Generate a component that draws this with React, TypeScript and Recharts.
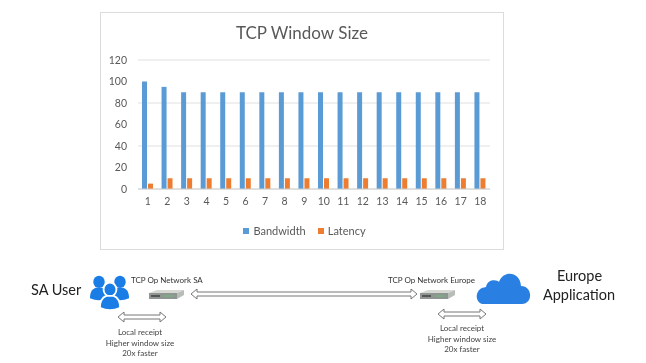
import { BarChart, Bar, XAxis, YAxis, CartesianGrid, Legend } from "recharts";

const categories = ["1", "2", "3", "4", "5", "6", "7", "8", "9", "10", "11", "12", "13", "14", "15", "16", "17", "18"];
const bandwidth = [100, 95, 90, 90, 90, 90, 90, 90, 90, 90, 90, 90, 90, 90, 90, 90, 90, 90];
const latency = [5, 10, 10, 10, 10, 10, 10, 10, 10, 10, 10, 10, 10, 10, 10, 10, 10, 10];
const yTicks = [0, 20, 40, 60, 80, 100, 120];
const localNotes = ["Local receipt", "Higher window size", "20x faster"];

const data = categories.map((name, i) => ({
  name,
  Bandwidth: bandwidth[i],
  Latency: latency[i],
}));

const FONT = "Lato, 'Open Sans', sans-serif";

// hollow double-headed arrow, same shape for the long and the short ones
function HollowArrow({ x1, x2, y }: { x1: number; x2: number; y: number }) {
  const pts = [
    [x1, y],
    [x1 + 6, y - 5],
    [x1 + 6, y - 2],
    [x2 - 6, y - 2],
    [x2 - 6, y - 5],
    [x2, y],
    [x2 - 6, y + 5],
    [x2 - 6, y + 2],
    [x1 + 6, y + 2],
    [x1 + 6, y + 5],
  ];
  return <polygon points={pts.map((p) => p.join(",")).join(" ")} fill="#fff" stroke="#777" strokeWidth={1} />;
}

function SwitchIcon({ x, y }: { x: number; y: number }) {
  return (
    <g transform={`translate(${x},${y})`}>
      <polygon points="0,3 28,3 35,0 8,0" fill="#d5d8d3" />
      <polygon points="0,3 28,3 28,9 0,9" fill="#8f9590" />
      <polygon points="28,3 35,0 35,5 28,9" fill="#b9bdb8" />
      <rect x={2} y={5} width={9} height={2} fill="#555" />
      <rect x={15} y={5} width={10} height={2} fill="#7fa886" />
    </g>
  );
}

function UserGlyph({ cx, cy, scale, stroke }: { cx: number; cy: number; scale: number; stroke?: boolean }) {
  return (
    <g
      transform={`translate(${cx},${cy}) scale(${scale})`}
      fill="#1a7de6"
      stroke={stroke ? "#fff" : "none"}
      strokeWidth={stroke ? 2 : 0}
    >
      <path d="M-7 -5 a7 7.5 0 1 1 14 0 a7 7.5 0 1 1 -14 0 Z" />
      <path d="M-4 2 L4 2 C9 4 11 8 11 15 Q0 20 -11 15 C-11 8 -9 4 -4 2 Z" />
    </g>
  );
}

function Diagram() {
  return (
    <svg width={646} height={363} style={{ position: "absolute", left: 0, top: 0 }} fontFamily={FONT}>
      <text x={31} y={295} fontSize={14.5} fill="#222">SA User</text>
      <UserGlyph cx={99} cy={286} scale={0.82} />
      <UserGlyph cx={120} cy={286} scale={0.82} />
      <UserGlyph cx={110} cy={294} scale={0.92} stroke />

      <text x={131} y={283} fontSize={8} fill="#333">TCP Op Network SA</text>
      <SwitchIcon x={149} y={290} />
      <HollowArrow x1={191} x2={417} y={294} />
      <HollowArrow x1={118} x2={166} y={317} />
      {localNotes.map((t, i) => (
        <text key={t} x={140} y={335 + i * 10.5} fontSize={8} fill="#444" textAnchor="middle">{t}</text>
      ))}

      <text x={388} y={283} fontSize={8} fill="#333">TCP Op Network Europe</text>
      <SwitchIcon x={420} y={290} />
      <HollowArrow x1={438} x2={486} y={314} />
      {localNotes.map((t, i) => (
        <text key={t} x={462} y={331 + i * 10.5} fontSize={8} fill="#444" textAnchor="middle">{t}</text>
      ))}

      <path
        d="M484 304 C474 304 474 288 486 287 C487 279 497 279 499 282 C503 270 520 271 521 286 C533 286 533 304 522 304 Z"
        fill="#2a80e2"
      />
      <text x={579.5} y={281} fontSize={14.5} fill="#222" textAnchor="middle">Europe</text>
      <text x={579} y={300} fontSize={14.5} fill="#222" textAnchor="middle">Application</text>
    </svg>
  );
}

function ChartLegend({ payload }: { payload?: { value: string; color: string }[] }) {
  return (
    <div style={{ display: "flex", justifyContent: "center", gap: 12, fontFamily: FONT, fontSize: 11, color: "#595959" }}>
      {(payload ?? []).map((item) => (
        <span key={item.value} style={{ display: "flex", alignItems: "center", gap: 4 }}>
          <span style={{ width: 6, height: 6, background: item.color }} />
          {item.value}
        </span>
      ))}
    </div>
  );
}

export default function App() {
  return (
    <div
      style={{
        position: "fixed",
        left: 0,
        top: 0,
        width: 646,
        height: 363,
        background: "#fff",
        overflow: "hidden",
        filter: "blur(0.35px)",
      }}
    >
      <div
        style={{
          position: "absolute",
          left: 100,
          top: 12,
          width: 404,
          height: 238,
          boxSizing: "border-box",
          border: "1px solid #dcdcdc",
        }}
      >
        <div
          style={{
            position: "absolute",
            left: 0,
            right: 0,
            top: 9,
            textAlign: "center",
            fontFamily: FONT,
            fontSize: 17,
            color: "#595959",
          }}
        >
          TCP Window Size
        </div>
        <BarChart
          width={402}
          height={236}
          data={data}
          margin={{ top: 47, right: 13, bottom: 0, left: 0 }}
          barSize={5}
          barGap={1}
          style={{ fontFamily: FONT }}
        >
          <CartesianGrid vertical={false} stroke="#e0e0e0" />
          <XAxis
            dataKey="name"
            interval={0}
            height={30}
            tickLine={false}
            axisLine={{ stroke: "#d0d0d0" }}
            tick={{ fontSize: 10.5, fill: "#595959" }}
            tickMargin={3}
          />
          <YAxis
            width={37}
            domain={[0, 120]}
            ticks={yTicks}
            tickLine={false}
            axisLine={false}
            tick={{ fontSize: 10.5, fill: "#595959" }}
            tickMargin={5}
          />
          <Legend
            height={30}
            content={(props: any) => <ChartLegend payload={props.payload} />}
            wrapperStyle={{ left: 0, width: 407, top: 211, bottom: "auto" }}
          />
          <Bar dataKey="Bandwidth" fill="#5b9bd5" isAnimationActive={false} />
          <Bar dataKey="Latency" fill="#ed7d31" isAnimationActive={false} />
        </BarChart>
      </div>
      <Diagram />
    </div>
  );
}
